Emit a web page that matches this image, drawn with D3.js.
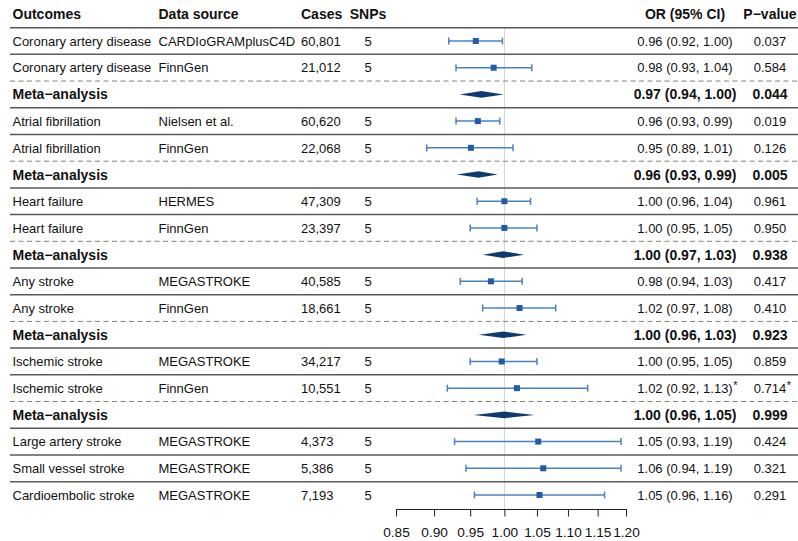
<!DOCTYPE html>
<html><head><meta charset="utf-8">
<script src="https://cdn.jsdelivr.net/npm/d3@7"></script>
<style>
body{margin:0;background:#fff;}
svg text{font-family:"Liberation Sans",Arial,Helvetica,sans-serif;fill:#111;}
</style></head>
<body><svg id="c" width="798" height="541"></svg>
<script>
const headers = ["Outcomes","Data source","Cases","SNPs","OR (95% CI)","P\u2212value"];
const kinds = ["study","study","meta","study","study","meta","study","study","meta","study","study","meta","study","study","meta","study","study","study"];
const outcomes = ["Coronary artery disease","Coronary artery disease","Meta\u2212analysis","Atrial fibrillation","Atrial fibrillation","Meta\u2212analysis","Heart failure","Heart failure","Meta\u2212analysis","Any stroke","Any stroke","Meta\u2212analysis","Ischemic stroke","Ischemic stroke","Meta\u2212analysis","Large artery stroke","Small vessel stroke","Cardioembolic stroke"];
const sources = ["CARDIoGRAMplusC4D","FinnGen","","Nielsen et al.","FinnGen","","HERMES","FinnGen","","MEGASTROKE","FinnGen","","MEGASTROKE","FinnGen","","MEGASTROKE","MEGASTROKE","MEGASTROKE"];
const cases = ["60,801","21,012","","60,620","22,068","","47,309","23,397","","40,585","18,661","","34,217","10,551","","4,373","5,386","7,193"];
const snps = ["5","5","","5","5","","5","5","","5","5","","5","5","","5","5","5"];
const orEst = [0.958,0.984,0.966,0.961,0.951,0.962,1.000,1.000,0.998,0.980,1.023,0.998,0.996,1.019,1.000,1.052,1.060,1.054];
const orLo  = [0.920,0.930,0.935,0.930,0.890,0.931,0.960,0.950,0.968,0.936,0.968,0.962,0.950,0.918,0.955,0.928,0.944,0.956];
const orHi  = [0.997,1.042,0.999,0.993,1.013,0.990,1.040,1.050,1.030,1.027,1.080,1.034,1.050,1.133,1.046,1.191,1.191,1.162];
const orText = ["0.96 (0.92, 1.00)","0.98 (0.93, 1.04)","0.97 (0.94, 1.00)","0.96 (0.93, 0.99)","0.95 (0.89, 1.01)","0.96 (0.93, 0.99)","1.00 (0.96, 1.04)","1.00 (0.95, 1.05)","1.00 (0.97, 1.03)","0.98 (0.94, 1.03)","1.02 (0.97, 1.08)","1.00 (0.96, 1.03)","1.00 (0.95, 1.05)","1.02 (0.92, 1.13)","1.00 (0.96, 1.05)","1.05 (0.93, 1.19)","1.06 (0.94, 1.19)","1.05 (0.96, 1.16)"];
const pText = ["0.037","0.584","0.044","0.019","0.126","0.005","0.961","0.950","0.938","0.417","0.410","0.923","0.859","0.714","0.999","0.424","0.321","0.291"];
const flagged = [false,false,false,false,false,false,false,false,false,false,false,false,false,true,false,false,false,false];
const tickValues = [0.85,0.90,0.95,1.00,1.05,1.10,1.15,1.20];

const svg = d3.select("#c");
const x = d3.scaleLog().domain([0.85,1.20]).range([396,626]);
const y = d3.scaleLinear().domain([0,17]).range([41,495]);
const n = outcomes.length;
const axisY = 509;
const colX = {out:12.5, src:158.5, cases:301, snps:368, or:685, p:770};

// reference line
svg.append("line").attr("x1",x(1)).attr("x2",x(1)).attr("y1",y(-0.5)).attr("y2",axisY)
  .attr("stroke","#d3d3d3").attr("stroke-width",1);

// separators
const seps = [{pos:-0.5,dash:false}];
for (let i=0;i<n-1;i++) seps.push({pos:i+0.5, dash: kinds[i+1]==="meta"});
svg.selectAll("line.sep").data(seps).join("line").attr("class","sep")
  .attr("x1",10).attr("x2",798)
  .attr("y1",d=>y(d.pos)).attr("y2",d=>y(d.pos))
  .attr("stroke",d=>d.dash?"#808080":"#5a5a5a")
  .attr("stroke-width",d=>d.dash?1:1.5)
  .attr("stroke-dasharray",d=>d.dash?"5,3.5":null);

// headers
const hdrX = [colX.out,colX.src,colX.cases,colX.snps,colX.or,colX.p];
const hdrAnchor = ["start","start","start","middle","middle","middle"];
svg.selectAll("text.hdr").data(headers).join("text").attr("class","hdr")
  .attr("x",(d,i)=>hdrX[i]).attr("y",y(-1)).attr("dy","0.36em")
  .attr("text-anchor",(d,i)=>hdrAnchor[i])
  .style("font-weight","bold").style("font-size","14px").text(d=>d);

const rows = d3.range(n);
function col(cls, arr, xpos, anchor){
  svg.selectAll("text."+cls).data(rows).join("text").attr("class",cls)
    .attr("x",xpos).attr("y",i=>y(i)).attr("dy","0.36em")
    .attr("text-anchor",anchor)
    .style("font-weight",i=>kinds[i]==="meta"?"bold":"normal")
    .style("font-size",i=>kinds[i]==="meta"?"14px":"13px")
    .text(i=>arr[i]);
}
col("out",outcomes,colX.out,"start");
col("src",sources,colX.src,"start");
col("cases",cases,colX.cases,"start");
col("snps",snps,colX.snps,"middle");
col("ort",orText,colX.or,"middle");
col("pt",pText,colX.p,"middle");

// asterisks
rows.filter(i=>flagged[i]).forEach(i=>{
  ["ort","pt"].forEach(cls=>{
    const node = svg.selectAll("text."+cls).filter(j=>j===i).node();
    const w = node.getComputedTextLength();
    const cx = cls==="ort"?colX.or:colX.p;
    svg.append("text").attr("x",cx+w/2+0.5).attr("y",y(i)-3).attr("dy","0.36em")
      .style("font-size","11px").text("*");
  });
});

// study CIs
const studies = rows.filter(i=>kinds[i]==="study");
const ciCol = "#4a80c4";
svg.selectAll("line.ci").data(studies).join("line").attr("class","ci")
  .attr("x1",i=>x(orLo[i])).attr("x2",i=>x(orHi[i])).attr("y1",i=>y(i)).attr("y2",i=>y(i))
  .attr("stroke",ciCol).attr("stroke-width",1.5);
svg.selectAll("line.capl").data(studies).join("line").attr("class","capl")
  .attr("x1",i=>x(orLo[i])).attr("x2",i=>x(orLo[i])).attr("y1",i=>y(i)-3.5).attr("y2",i=>y(i)+3.5)
  .attr("stroke",ciCol).attr("stroke-width",1.5);
svg.selectAll("line.capr").data(studies).join("line").attr("class","capr")
  .attr("x1",i=>x(orHi[i])).attr("x2",i=>x(orHi[i])).attr("y1",i=>y(i)-3.5).attr("y2",i=>y(i)+3.5)
  .attr("stroke",ciCol).attr("stroke-width",1.5);
svg.selectAll("rect.pt").data(studies).join("rect").attr("class","pt")
  .attr("x",i=>x(orEst[i])-3).attr("y",i=>y(i)-3).attr("width",6).attr("height",6)
  .attr("fill","#1f5ba8");

// meta diamonds
const metas = rows.filter(i=>kinds[i]==="meta");
svg.selectAll("path.dia").data(metas).join("path").attr("class","dia")
  .attr("d",i=>{const yy=y(i),h=3.3;return `M${x(orLo[i])},${yy}L${x(orEst[i])},${yy-h}L${x(orHi[i])},${yy}L${x(orEst[i])},${yy+h}Z`;})
  .attr("fill","#0d3a72");

// axis
const ax = svg.append("g").attr("transform",`translate(0,${axisY})`)
  .call(d3.axisBottom(x).tickValues(tickValues).tickFormat(d3.format(".2f")).tickSize(7.5).tickSizeOuter(0));
ax.select(".domain").attr("stroke","#222");
ax.selectAll(".tick line").attr("stroke","#222");
ax.selectAll(".tick text").style("font-size","13.7px").attr("y",23).attr("dy","0.36em").attr("fill","#111")
  .style("font-family","'Liberation Sans',Arial,Helvetica,sans-serif");
</script></body></html>
